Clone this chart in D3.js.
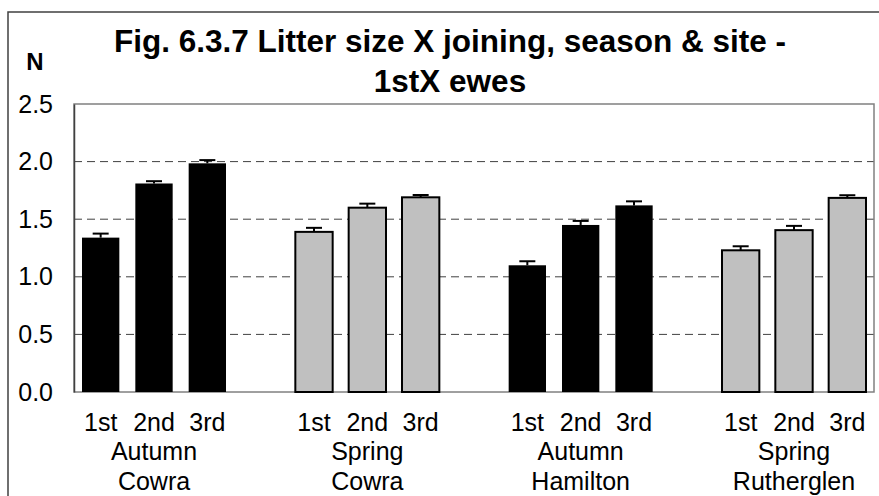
<!DOCTYPE html>
<html>
<head>
<meta charset="utf-8">
<script src="https://cdn.jsdelivr.net/npm/d3@7"></script>
<style>
  html, body { margin: 0; padding: 0; background: #fff; }
  svg { display: block; font-family: Arial, "Liberation Sans", sans-serif; }
</style>
</head>
<body>
<svg id="chart" width="879" height="496"></svg>
<script>
// Litter size by joining, season and site (1stX ewes)
const joinings = ["1st", "2nd", "3rd"];
const seasons = ["Autumn", "Spring", "Autumn", "Spring"];
const sites = ["Cowra", "Cowra", "Hamilton", "Rutherglen"];
const litterSize = [
  [1.34, 1.81, 1.985],
  [1.39, 1.60, 1.69],
  [1.10, 1.45, 1.62],
  [1.23, 1.405, 1.685]
];
const stdErr = [
  [0.035, 0.02, 0.028],
  [0.035, 0.035, 0.02],
  [0.035, 0.035, 0.035],
  [0.035, 0.037, 0.023]
];
const yTicks = [0, 0.5, 1.0, 1.5, 2.0, 2.5];
const titleLines = ["Fig. 6.3.7 Litter size X joining, season & site -", "1stX ewes"];
const yLabel = "N";

const svg = d3.select("#chart");
const plot = { left: 74, right: 874, top: 104, bottom: 392 };

// One slot per bar, plus an empty slot between each group
const slots = [];
const bars = [];
litterSize.forEach((grp, g) => {
  grp.forEach((v, j) => {
    const key = `g${g}j${j}`;
    slots.push(key);
    bars.push({ key, g, j, value: v, err: stdErr[g][j], autumn: seasons[g] === "Autumn" });
  });
  if (g < litterSize.length - 1) slots.push(`gap${g}`);
});

const x = d3.scaleBand().domain(slots).range([plot.left, plot.right])
  .paddingInner(0.3).paddingOuter(0.15);
const y = d3.scaleLinear().domain([0, 2.5]).range([plot.bottom, plot.top]);

// Outer chart frame
svg.append("rect").attr("x", 8).attr("y", 12).attr("width", 900).attr("height", 600)
  .attr("fill", "none").attr("stroke", "#404040").attr("stroke-width", 1.5);

// Dashed gridlines
svg.append("g").selectAll("line").data(yTicks.filter(t => t > 0 && t < 2.5)).join("line")
  .attr("x1", plot.left).attr("x2", plot.right)
  .attr("y1", d => y(d)).attr("y2", d => y(d))
  .attr("stroke", "#404040").attr("stroke-width", 1).attr("stroke-dasharray", "8,5");

// Plot area frame
svg.append("rect").attr("x", plot.left).attr("y", plot.top)
  .attr("width", plot.right - plot.left).attr("height", plot.bottom - plot.top)
  .attr("fill", "none").attr("stroke", "#808080").attr("stroke-width", 1.5);

// Y axis
const yAxis = d3.axisLeft(y).tickValues(yTicks).tickFormat(d3.format(".1f")).tickSize(0).tickPadding(21);
const yg = svg.append("g").attr("transform", `translate(${plot.left},0)`).call(yAxis);
yg.select(".domain").attr("stroke", "#404040").attr("stroke-width", 1.5);
yg.selectAll("text").attr("font-size", 25).attr("fill", "#000")
  .attr("font-family", "Arial, 'Liberation Sans', sans-serif");

// Bars
svg.append("g").selectAll("rect").data(bars).join("rect")
  .attr("x", d => x(d.key)).attr("width", x.bandwidth())
  .attr("y", d => y(d.value)).attr("height", d => y(0) - y(d.value))
  .attr("fill", d => d.autumn ? "#000" : "#C0C0C0")
  .attr("stroke", "#000").attr("stroke-width", d => d.autumn ? 0 : 2);

// Error bars (upper only)
const eb = svg.append("g").attr("stroke", "#000").attr("stroke-width", 2);
bars.forEach(d => {
  const cx = x(d.key) + x.bandwidth() / 2;
  eb.append("line").attr("x1", cx).attr("x2", cx)
    .attr("y1", y(d.value)).attr("y2", y(d.value + d.err));
  eb.append("line").attr("x1", cx - 8).attr("x2", cx + 8)
    .attr("y1", y(d.value + d.err)).attr("y2", y(d.value + d.err));
});

// Category labels
const lab = svg.append("g").attr("font-size", 25).attr("text-anchor", "middle").attr("fill", "#000");
bars.forEach(d => {
  const cx = x(d.key) + x.bandwidth() / 2;
  lab.append("text").attr("x", cx).attr("y", 431).text(joinings[d.j]);
  if (d.j === 1) {
    lab.append("text").attr("x", cx).attr("y", 460).text(seasons[d.g]);
    lab.append("text").attr("x", cx).attr("y", 490).text(sites[d.g]);
  }
});

// Title
const title = svg.append("text").attr("text-anchor", "middle")
  .attr("font-size", 31.5).attr("font-weight", "bold").attr("fill", "#000");
title.selectAll("tspan").data(titleLines).join("tspan")
  .attr("x", 450).attr("y", (d, i) => i === 0 ? 52 : 92).text(d => d);

// Y axis unit label
svg.append("text").attr("x", 35).attr("y", 70).attr("text-anchor", "middle")
  .attr("font-size", 24).attr("font-weight", "bold").text(yLabel);
</script>
</body>
</html>
